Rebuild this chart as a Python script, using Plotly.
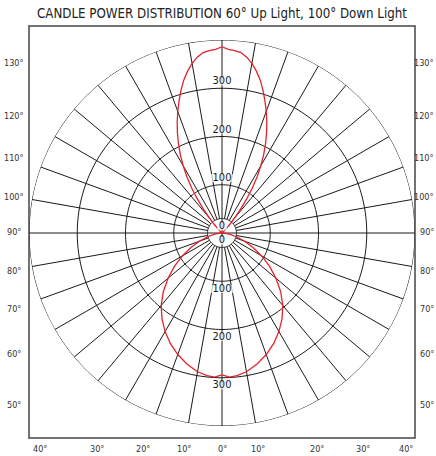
import plotly.graph_objects as go

# ---------------- data ----------------
# angles measured from nadir (0 = straight down, 180 = straight up), one half of a symmetric curve
down_angles = [0, 3, 6, 10, 15, 20, 25, 30, 35, 40, 45, 50, 55, 60, 65, 70, 75, 80, 85, 90]
down_cd = [294, 299, 297, 292, 281, 268, 253, 236, 217, 196, 172, 146, 120, 95, 71, 50, 32, 17, 7, 0]

up_angles = [130, 134, 136, 138, 140, 142, 144, 146, 148, 150, 152, 154, 156, 158, 160,
             162, 164, 166, 168, 170, 172, 174, 176, 178, 180]
up_cd = [0, 5, 12, 25, 42, 62, 86, 112, 137, 161, 184, 206, 227, 248, 268,
         288, 308, 327, 343, 357, 368, 376, 379, 381, 386]

ring_values = [100, 200, 300, 400]
hub_value = 30
spoke_step = 10
ring_labels = ["0", "100", "200", "300"]
ring_label_values = [0, 100, 200, 300]

side_labels = ["130°", "120°", "110°", "100°", "90°", "80°", "70°", "60°", "50°"]
side_label_px = [63, 116, 158, 197, 232, 271, 309, 354, 405]
bottom_labels = ["40°", "30°", "20°", "10°", "0°", "10°", "20°", "30°", "40°"]
bottom_label_px = [40, 97, 143, 184, 222, 258, 317, 363, 406]

TITLE = "CANDLE POWER DISTRIBUTION 60° Up Light, 100° Down Light"

# ---------------- layout constants ----------------
W, H = 436, 456
PL, PR, PT, PB = 29, 21, 40, 30
PW = W - PL - PR
PH = H - PT - PB
NARROW = "Liberation Sans Narrow, Arial Narrow, DejaVu Sans Condensed, sans-serif"
GRID = "#1a1a1a"
TXT = "#333333"

def px_to_paper_y(py):
    return (H - PB - py) / PH

def px_to_paper_x(px):
    return (px - PL) / PW

fig = go.Figure()

# rings
ring_theta, ring_r = [], []
for v in [hub_value] + ring_values:
    ts = list(range(0, 361, 2))
    ring_theta += ts + [None]
    ring_r += [v] * len(ts) + [None]
fig.add_trace(go.Scatterpolar(r=ring_r, theta=ring_theta, mode="lines",
                              line=dict(color=GRID, width=1), hoverinfo="skip",
                              connectgaps=False, showlegend=False))

# spokes
sp_theta, sp_r = [], []
for a in range(0, 360, spoke_step):
    start = 0 if a % 90 == 0 else hub_value
    sp_theta += [a, a, None]
    sp_r += [start, ring_values[-1], None]
fig.add_trace(go.Scatterpolar(r=sp_r, theta=sp_theta, mode="lines",
                              line=dict(color=GRID, width=1), hoverinfo="skip",
                              connectgaps=False, showlegend=False))

# candle power curve
half_t = down_angles + up_angles
half_r = down_cd + up_cd
theta = [-t for t in reversed(half_t)] + half_t[1:]
r = list(reversed(half_r)) + half_r[1:]
fig.add_trace(go.Scatterpolar(r=r, theta=theta, mode="lines",
                              line=dict(color="#e3222b", width=1.3),
                              hoverinfo="skip", showlegend=False))

# ring value labels (upper and lower), on a small white patch hiding the axis line
lbl_r = [v + 14 for v in ring_label_values] + [v + 16 for v in ring_label_values]
lbl_t = [180] * len(ring_label_values) + [0] * len(ring_label_values)
lbl_w = [7 if len(s) == 1 else 16 for s in ring_labels] * 2
fig.add_trace(go.Scatterpolar(r=lbl_r, theta=lbl_t, mode="markers+text",
                              text=ring_labels + ring_labels,
                              textposition="middle center",
                              textfont=dict(family=NARROW, size=11, color="#1a1a1a"),
                              marker=dict(symbol="line-ew", size=lbl_w, color="white",
                                          line=dict(color="white", width=8)),
                              hoverinfo="skip", showlegend=False))

annotations = []
for lab, py in zip(side_labels, side_label_px):
    annotations.append(dict(text=lab, x=px_to_paper_x(14), y=px_to_paper_y(py),
                            xref="paper", yref="paper", showarrow=False,
                            xanchor="center", yanchor="middle",
                            font=dict(family=NARROW, size=9, color=TXT)))
    annotations.append(dict(text=lab, x=px_to_paper_x(435.5), y=px_to_paper_y(py),
                            xref="paper", yref="paper", showarrow=False,
                            xanchor="right", yanchor="middle",
                            font=dict(family=NARROW, size=9, color=TXT)))
for lab, px in zip(bottom_labels, bottom_label_px):
    annotations.append(dict(text=lab, x=px_to_paper_x(px), y=px_to_paper_y(449),
                            xref="paper", yref="paper", showarrow=False,
                            xanchor="center", yanchor="middle",
                            font=dict(family=NARROW, size=9, color=TXT)))

fig.update_layout(
    width=W, height=H,
    margin=dict(l=PL, r=PR, t=PT, b=PB),
    paper_bgcolor="white", plot_bgcolor="white",
    title=dict(text=TITLE, x=222 / W, xref="container", xanchor="center",
               y=1 - 13 / H, yref="container", yanchor="middle",
               font=dict(family=NARROW, size=13.2, color="#222222")),
    polar=dict(
        domain=dict(x=[0, 1], y=[0, 1]),
        bgcolor="rgba(0,0,0,0)",
        radialaxis=dict(range=[0, 400], visible=False, showgrid=False, showline=False),
        angularaxis=dict(rotation=-90, direction="clockwise", visible=False,
                         showgrid=False, showline=False, showticklabels=False, ticks=""),
    ),
    shapes=[dict(type="rect", xref="paper", yref="paper",
                 x0=0, x1=1, y0=px_to_paper_y(438), y1=px_to_paper_y(26),
                 line=dict(color="#444444", width=1.5), layer="above")],
    annotations=annotations,
    showlegend=False,
)

fig.write_html("out.html", config={"displayModeBar": False, "staticPlot": True},
               post_script="document.body.style.margin='0px';")
